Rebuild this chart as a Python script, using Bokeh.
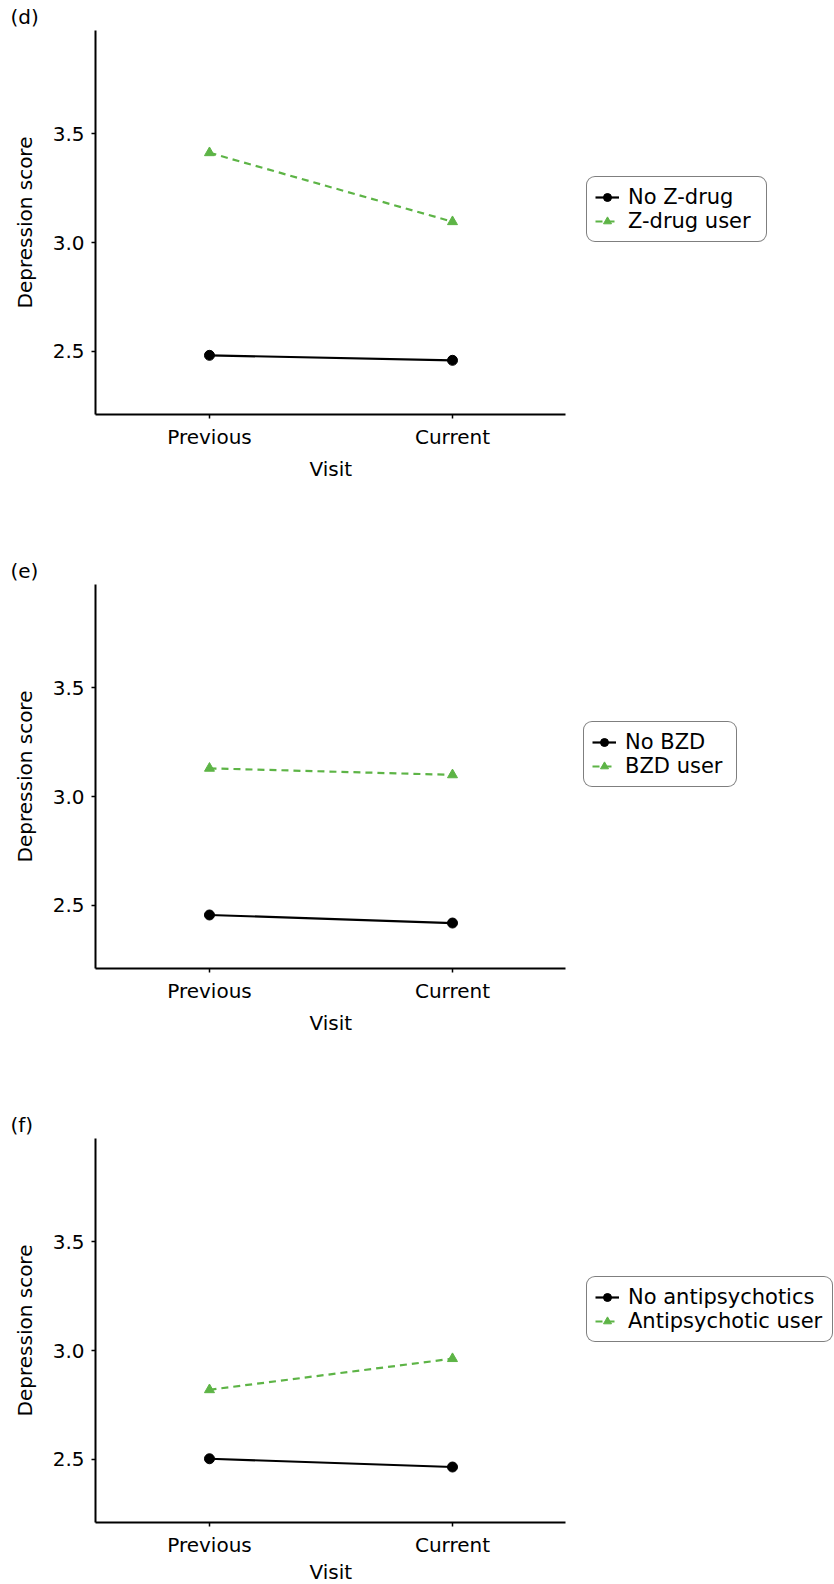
from bokeh.plotting import figure
from bokeh.layouts import column
from bokeh.models import Range1d, FixedTicker, Legend, LegendItem, Title
from bokeh.embed import file_html
from bokeh.resources import INLINE

# ---- data ----
visits = ["Previous", "Current"]
y_ticks = [2.5, 3.0, 3.5]
x_axis_title = "Visit"
y_axis_title = "Depression score"

tag_d = "(d)"
labels_d = ["No Z-drug", "Z-drug user"]
no_zdrug = [2.482, 2.459]
zdrug_user = [3.413, 3.096]

tag_e = "(e)"
labels_e = ["No BZD", "BZD user"]
no_bzd = [2.456, 2.419]
bzd_user = [3.130, 3.100]

tag_f = "(f)"
labels_f = ["No antipsychotics", "Antipsychotic user"]
no_antipsychotics = [2.503, 2.465]
antipsychotic_user = [2.820, 2.963]

# ---- style / layout ----
FONT = "DejaVu Sans"
GREEN = "#5db446"
FS = "20px"
LEG_FS = "21px"
FIG_W = 834
LEFT = 95            # frame left
AXIS_PX = 470        # visible x axis length in px
X_START, X_AXIS_END = -0.469, 1.465
FRAME_W = FIG_W - LEFT
X_END = X_START + (X_AXIS_END - X_START) * FRAME_W / AXIS_PX


def make_panel(tag, labels, no_vals, user_vals, height, bottom, visit_standoff,
               leg_x, leg_y, leg_label_w):
    x = list(range(len(visits)))
    p = figure(width=FIG_W, height=height,
               x_range=Range1d(X_START, X_END), y_range=Range1d(2.21, 3.975),
               output_backend="svg", toolbar_location=None,
               min_border_left=LEFT, min_border_right=0,
               min_border_top=30, min_border_bottom=bottom)
    p.xgrid.visible = False
    p.ygrid.visible = False
    p.outline_line_color = None
    p.background_fill_color = "white"
    p.border_fill_color = "white"

    # panel tag "(d)" etc.
    p.title.text = tag
    p.title.align = "left"
    p.title.offset = 10 - LEFT
    p.title.standoff = 3
    p.title.text_font = FONT
    p.title.text_font_size = FS
    p.title.text_font_style = "normal"
    p.title.text_color = "black"

    r1 = p.line(x, no_vals, line_color="black", line_width=2.2)
    s1 = p.scatter(x, no_vals, marker="circle", size=10, fill_color="black", line_color="black")
    r2 = p.line(x, user_vals, line_color=GREEN, line_width=2.2, line_dash="7 5")
    s2 = p.scatter(x, user_vals, marker="triangle", size=10, fill_color=GREEN, line_color=GREEN)

    for ax in (p.xaxis, p.yaxis):
        ax.axis_line_color = "black"
        ax.axis_line_width = 2
        ax.major_tick_line_color = "black"
        ax.major_tick_line_width = 1.5
        ax.major_tick_out = 4
        ax.major_tick_in = 0
        ax.minor_tick_line_color = None
        ax.major_label_text_font = FONT
        ax.major_label_text_font_size = FS
        ax.major_label_text_color = "black"
        ax.axis_label_text_font = FONT
        ax.axis_label_text_font_size = FS
        ax.axis_label_text_font_style = "normal"
        ax.axis_label_text_color = "black"

    p.xaxis.bounds = (X_START, X_AXIS_END)
    p.xaxis.ticker = FixedTicker(ticks=x)
    p.xaxis.major_label_overrides = {i: v for i, v in zip(x, visits)}
    p.xaxis.major_label_standoff = 6

    p.yaxis.ticker = FixedTicker(ticks=y_ticks)
    p.yaxis.major_label_overrides = {t: f"{t:.1f}" for t in y_ticks}
    p.yaxis.axis_label = y_axis_title
    p.yaxis.major_label_standoff = 7
    p.yaxis.axis_label_standoff = 13

    # x-axis title centred under the visible axis
    p.add_layout(Title(text=x_axis_title, align="left", offset=214,
                       standoff=visit_standoff, text_font=FONT, text_font_size=FS,
                       text_font_style="normal", text_color="black"), "below")

    legend = Legend(items=[LegendItem(label=labels[0], renderers=[r1, s1]),
                           LegendItem(label=labels[1], renderers=[r2, s2])],
                    location=(leg_x, leg_y))
    legend.label_text_font = FONT
    legend.label_text_font_size = LEG_FS
    legend.label_text_color = "black"
    legend.glyph_width = 24
    legend.glyph_height = 20
    legend.label_height = 20
    legend.label_width = leg_label_w
    legend.label_standoff = 9
    legend.spacing = 0
    legend.padding = 8
    legend.margin = 0
    legend.border_line_color = "black"
    legend.border_line_width = 1.6
    legend.border_radius = 9
    legend.background_fill_color = "white"
    p.add_layout(legend, "center")
    return p


pd_ = make_panel(tag_d, labels_d, no_zdrug, zdrug_user, 554, 140, 7, 491, 172, 130)
pe_ = make_panel(tag_e, labels_e, no_bzd, bzd_user, 554, 140, 7, 488, 181, 103)
pf_ = make_panel(tag_f, labels_f, no_antipsychotics, antipsychotic_user, 476, 62, -3, 491, 180, 196)

layout = column(pd_, pe_, pf_, spacing=0)
open("out.html", "w").write(file_html(layout, INLINE))
